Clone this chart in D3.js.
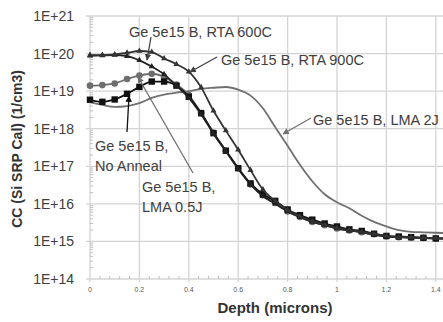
<!DOCTYPE html>
<html><head><meta charset="utf-8">
<script src="https://cdn.jsdelivr.net/npm/d3@7"></script>
<style>body{margin:0;background:#fff}svg{display:block}text{font-family:"Liberation Sans",Arial,sans-serif}</style>
</head><body>
<svg id="c" width="443" height="322"></svg>
<script>
const depths = [0,0.05,0.1,0.15,0.2,0.25,0.3,0.35,0.4,0.45,0.5,0.55,0.6,0.65,0.7,0.75,0.8,0.85,0.9,0.95,1.0,1.05,1.1,1.15,1.2,1.25,1.3,1.35,1.4,1.45];
const noAnneal = [5.9e18,5.2e18,6.0e18,8.5e18,1.3e19,1.8e19,1.8e19,1.4e19,7.1e18,2.6e18,7.6e17,2.6e17,8.9e16,3.5e16,1.8e16,1.2e16,7.1e15,5.0e15,3.8e15,3.0e15,2.5e15,2.1e15,1.9e15,1.6e15,1.4e15,1.35e15,1.3e15,1.25e15,1.2e15,1.23e15];
const lma05 = [1.4e19,1.45e19,1.6e19,2.1e19,2.6e19,2.9e19,2.4e19,1.5e19,7.9e18,2.6e18,7.9e17,2.6e17,8.9e16,3.3e16,1.7e16,1.05e16,6.3e15,4.5e15,3.3e15,2.7e15,2.2e15,1.95e15,1.75e15,1.55e15,1.35e15,1.3e15,1.25e15,1.23e15,1.2e15,1.17e15];
const rta600 = [8.7e19,8.9e19,9.1e19,8.5e19,6.6e19,4.5e19,2.8e19,1.4e19,6.6e18,2.4e18,7.4e17,2.5e17,8.5e16,3.3e16,1.6e16,1.0e16,6.3e15,4.4e15,3.3e15,2.7e15,2.2e15,1.95e15,1.75e15,1.5e15,1.35e15,1.3e15,1.25e15,1.23e15,1.2e15,1.17e15];
const rta900 = [9.1e19,9.1e19,9.5e19,1.05e20,1.17e20,1.1e20,7.4e19,5.2e19,3.3e19,1.26e19,3.0e18,8.9e17,2.75e17,7.9e16,2.4e16,1.2e16,6.9e15,4.7e15,3.5e15,2.8e15,2.3e15,2.0e15,1.8e15,1.6e15,1.4e15,1.3e15,1.3e15,1.25e15,1.23e15,1.2e15];
const lma2 = [5.1e18,4.3e18,3.8e18,4.0e18,4.8e18,6.6e18,8.1e18,9.1e18,1.0e19,1.15e19,1.23e19,1.29e19,1.1e19,7.6e18,3.5e18,1.1e18,3.5e17,1.1e17,4.0e16,1.8e16,1.1e16,7.6e15,4.8e15,3.3e15,2.5e15,2.0e15,1.8e15,1.75e15,1.7e15,1.66e15];
const yTicks = [1e14,1e15,1e16,1e17,1e18,1e19,1e20,1e21];
const yTickLabels = ["1E+14","1E+15","1E+16","1E+17","1E+18","1E+19","1E+20","1E+21"];
const xTicks = [0,0.2,0.4,0.6,0.8,1,1.2,1.4];
const xTickLabels = ["0","0.2","0.4","0.6","0.8","1","1.2","1.4"];

const svg = d3.select("#c");
const x = d3.scaleLinear().domain([0,1.5]).range([90,460.5]);
const y = d3.scaleLog().domain([1e14,1e21]).range([279,16]);
const grid = "#d4d4d4";

// grid
svg.append("g").selectAll("line").data(yTicks).join("line")
  .attr("x1",86).attr("x2",443).attr("y1",d=>y(d)).attr("y2",d=>y(d))
  .attr("stroke",grid).attr("stroke-width",1.3);
svg.append("g").selectAll("line").data(xTicks).join("line")
  .attr("x1",d=>x(d)).attr("x2",d=>x(d)).attr("y1",16).attr("y2",282)
  .attr("stroke",grid).attr("stroke-width",1.3);
// minor ticks x
const xMinor = d3.range(0,1.5,0.04).filter(v=>Math.abs(v/0.2-Math.round(v/0.2))>0.01);
svg.append("g").selectAll("line").data(xMinor).join("line")
  .attr("x1",d=>x(d)).attr("x2",d=>x(d)).attr("y1",276).attr("y2",279)
  .attr("stroke","#bfbfbf").attr("stroke-width",1);
// minor ticks y
const yMinor = [];
for (let e=14;e<21;e++) for (let m=2;m<10;m++) yMinor.push(m*Math.pow(10,e));
svg.append("g").selectAll("line").data(yMinor).join("line")
  .attr("x1",90).attr("x2",93).attr("y1",d=>y(d)).attr("y2",d=>y(d))
  .attr("stroke","#bfbfbf").attr("stroke-width",1);

// labels
svg.append("g").selectAll("text").data(yTicks).join("text")
  .attr("x",74).attr("y",d=>y(d)+5).attr("text-anchor","end")
  .attr("font-size",14).attr("fill","#404040").text((d,i)=>yTickLabels[i]);
svg.append("g").selectAll("text").data(xTicks).join("text")
  .attr("x",d=>x(d)).attr("y",292).attr("text-anchor","middle")
  .attr("font-size",7).attr("fill","#595959").text((d,i)=>xTickLabels[i]);
svg.append("text").attr("transform","translate(22,149) rotate(-90)")
  .attr("text-anchor","middle").attr("font-size",14).attr("font-weight","bold")
  .attr("fill","#333").text("CC (Si SRP Cal) (1/cm3)");
svg.append("text").attr("x",275).attr("y",313).attr("text-anchor","middle")
  .attr("font-size",15).attr("font-weight","bold").attr("fill","#333").text("Depth (microns)");

const clip = svg.append("defs").append("clipPath").attr("id","pc").append("rect")
  .attr("x",86).attr("y",10).attr("width",400).attr("height",272);
const plot = svg.append("g").attr("clip-path","url(#pc)");
const line = d3.line().x((d,i)=>x(depths[i])).y(d=>y(d)).curve(d3.curveMonotoneX);

function series(vals,color,w){
  plot.append("path").attr("d",line(vals)).attr("fill","none").attr("stroke",color).attr("stroke-width",w);
}
series(lma2,"#707070",1.8);
series(lma05,"#6e6e6e",1.8);
plot.append("g").selectAll("circle").data(lma05).join("circle")
  .attr("cx",(d,i)=>x(depths[i])).attr("cy",d=>y(d)).attr("r",3.3).attr("fill","#6e6e6e");
series(noAnneal,"#111",1.8);
plot.append("g").selectAll("rect").data(noAnneal).join("rect")
  .attr("x",(d,i)=>x(depths[i])-3.2).attr("y",d=>y(d)-3.2).attr("width",6.4).attr("height",6.4).attr("fill","#111");
const tri = d3.symbol().type(d3.symbolTriangle).size(16);
series(rta600,"#222",1.8);
plot.append("g").selectAll("path").data(rta600).join("path")
  .attr("transform",(d,i)=>`translate(${x(depths[i])},${y(d)})`).attr("d",tri).attr("fill","#222");
series(rta900,"#333",1.8);
plot.append("g").selectAll("path").data(rta900).join("path")
  .attr("transform",(d,i)=>`translate(${x(depths[i])},${y(d)})`).attr("d",tri).attr("fill","#333");

// arrows
const defs = svg.select("defs");
function mk(id,color){
  defs.append("marker").attr("id",id).attr("viewBox","0 0 10 10").attr("refX",9).attr("refY",5)
    .attr("markerWidth",5).attr("markerHeight",5).attr("orient","auto")
    .append("path").attr("d","M0,0L10,5L0,10z").attr("fill",color);
}
mk("a1","#404040"); mk("a2","#707070"); mk("a3","#111");
function arrow(x1,y1,x2,y2,color,id){
  svg.append("line").attr("x1",x1).attr("y1",y1).attr("x2",x2).attr("y2",y2)
    .attr("stroke",color).attr("stroke-width",1.3).attr("marker-end",`url(#${id})`);
}
arrow(151,37,147,60,"#404040","a1");
arrow(217,57,190,72,"#404040","a1");
arrow(311,118,283,134,"#707070","a2");
arrow(127,132,129,96,"#111","a3");
arrow(193,173,138,77,"#707070","a2");

function label(tx,ty,lines){
  const t = svg.append("text").attr("x",tx).attr("y",ty).attr("font-size",14.5).attr("fill","#404040");
  lines.forEach((s,i)=>t.append("tspan").attr("x",tx).attr("dy",i?20:0).text(s));
}
label(129,37,["Ge 5e15 B, RTA 600C"]);
label(221,65,["Ge 5e15 B, RTA 900C"]);
label(313,125,["Ge 5e15 B, LMA 2J"]);
label(95,151,["Ge 5e15 B,","No Anneal"]);
label(142,192,["Ge 5e15 B,","LMA 0.5J"]);
</script>
</body></html>
